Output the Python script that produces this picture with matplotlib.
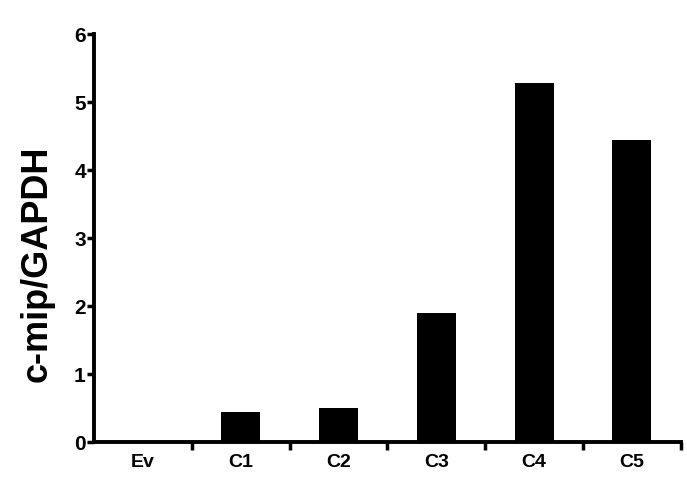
import numpy as np
import matplotlib.pyplot as plt

categories = ["Ev", "C1", "C2", "C3", "C4", "C5"]
values = [0.0, 0.44, 0.50, 1.90, 5.28, 4.44]
yticks = [0, 1, 2, 3, 4, 5, 6]

plt.rcParams["font.family"] = ["Liberation Sans", "DejaVu Sans"]
plt.rcParams["font.weight"] = "bold"

fig = plt.figure(figsize=(6.87, 4.85), dpi=100)
ax = fig.add_axes([0.137, 0.087, 0.854, 0.841])

x = np.arange(len(categories))
ax.bar(x, values, width=0.4, color="black")

ax.set_xlim(-0.5, len(categories) - 0.5)
ax.set_ylim(0, 6)
ax.set_yticks(yticks)
ax.set_xticks(x)
ax.set_xticklabels(categories, fontsize=14, fontweight="bold")
ax.set_xticks(np.arange(0.5, len(categories), 1.0), minor=True)
ax.tick_params(axis="x", which="major", length=0, pad=8)
ax.tick_params(axis="x", which="minor", length=6, width=2.5, direction="out")
ax.tick_params(axis="y", length=5, width=2.5, pad=1, labelsize=15)
for lbl in ax.get_yticklabels():
    lbl.set_fontweight("bold")

ax.set_ylabel("c-mip/GAPDH", fontsize=26, fontweight="bold")
ax.yaxis.set_label_coords(-0.068, 0.44)

for s in ["top", "right"]:
    ax.spines[s].set_visible(False)
for s in ["left", "bottom"]:
    ax.spines[s].set_linewidth(2.8)

fig.savefig("out.png", dpi=100)
